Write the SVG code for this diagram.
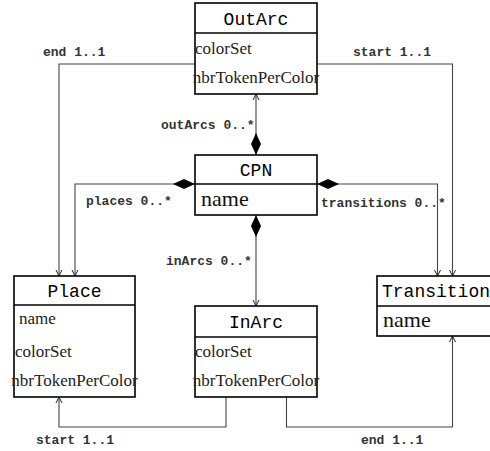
<svg xmlns="http://www.w3.org/2000/svg" width="490" height="451" viewBox="0 0 490 451">
  <style>
    .box { fill: #fff; stroke: #000; stroke-width: 1.6; }
    .div { stroke: #000; stroke-width: 1.6; }
    .title { font-family: "Liberation Mono", "DejaVu Sans Mono", monospace; font-size: 18px; fill: #000; text-anchor: middle; }
    .title.left { text-anchor: start; }
    .attr { font-family: "Liberation Serif", "DejaVu Serif", serif; font-size: 17px; fill: #222; }
    .attr.mid { text-anchor: middle; }
    .attrL { font-family: "Liberation Serif", "DejaVu Serif", serif; font-size: 22px; fill: #111; }
    .lbl { font-family: "Liberation Mono", "DejaVu Sans Mono", monospace; font-size: 13px; font-weight: bold; fill: #333; }
    .conn { fill: none; stroke: #444; stroke-width: 1.1; }
  </style>
  <defs>
    <marker id="open" viewBox="0 0 8 8" refX="7" refY="4" markerWidth="8" markerHeight="8" markerUnits="userSpaceOnUse" orient="auto">
      <path d="M1,1 L7,4 L1,7" fill="none" stroke="#222" stroke-width="1"/>
    </marker>
    <marker id="diamond" viewBox="0 -6 23 12" refX="0" refY="0" markerWidth="23" markerHeight="12" markerUnits="userSpaceOnUse" orient="auto">
      <path d="M0,0 L11,-5 L22,0 L11,5 Z" fill="#000"/>
    </marker>
  </defs>

  <!-- associations -->
  <g id="connectors">
    <!-- OutArc end / start -->
    <path class="conn" d="M195,64 H59 V276" marker-end="url(#open)"/>
    <path class="conn" d="M317,64 H452.5 V276" marker-end="url(#open)"/>
    <!-- CPN compositions -->
    <path class="conn" d="M256,155 V94" marker-start="url(#diamond)" marker-end="url(#open)"/>
    <path class="conn" d="M195,184 H75 V276" marker-start="url(#diamond)" marker-end="url(#open)"/>
    <path class="conn" d="M317,184 H437.5 V276" marker-start="url(#diamond)" marker-end="url(#open)"/>
    <path class="conn" d="M256,215 V306" marker-start="url(#diamond)" marker-end="url(#open)"/>
    <!-- InArc start / end -->
    <path class="conn" d="M226,397 V427 H59 V397" marker-end="url(#open)"/>
    <path class="conn" d="M286.5,397 V427 H452.5 V336" marker-end="url(#open)"/>

    <text class="lbl" x="43" y="56">end 1..1</text>
    <text class="lbl" x="353" y="56">start 1..1</text>
    <text class="lbl" x="161" y="129">outArcs 0..*</text>
    <text class="lbl" x="86" y="205">places 0..*</text>
    <text class="lbl" x="321" y="207">transitions 0..*</text>
    <text class="lbl" x="166" y="265">inArcs 0..*</text>
    <text class="lbl" x="36" y="444">start 1..1</text>
    <text class="lbl" x="361" y="444">end 1..1</text>
  </g>

  <g id="OutArc">
    <rect class="box" x="195" y="3" width="122" height="91"/>
    <line class="div" x1="195" y1="33" x2="317" y2="33"/>
    <text class="title" x="256" y="25">OutArc</text>
    <text class="attr" x="195" y="54">colorSet</text>
    <text class="attr mid" x="256" y="83">nbrTokenPerColor</text>
  </g>

  <g id="CPN">
    <rect class="box" x="195" y="155" width="122" height="60"/>
    <line class="div" x1="195" y1="184" x2="317" y2="184"/>
    <text class="title" x="256" y="176">CPN</text>
    <text class="attrL" x="201" y="206">name</text>
  </g>

  <g id="Place">
    <rect class="box" x="14" y="276" width="121" height="121"/>
    <line class="div" x1="14" y1="305" x2="135" y2="305"/>
    <text class="title" x="74.5" y="297">Place</text>
    <text class="attr" x="19" y="324">name</text>
    <text class="attr" x="15" y="357">colorSet</text>
    <text class="attr mid" x="74.5" y="386">nbrTokenPerColor</text>
  </g>

  <g id="InArc">
    <rect class="box" x="195" y="306" width="122" height="91"/>
    <line class="div" x1="195" y1="337" x2="317" y2="337"/>
    <text class="title" x="256" y="328">InArc</text>
    <text class="attr" x="195" y="357">colorSet</text>
    <text class="attr mid" x="256" y="386">nbrTokenPerColor</text>
  </g>

  <g id="Transition">
    <rect class="box" x="377" y="276" width="130" height="60"/>
    <line class="div" x1="377" y1="306" x2="507" y2="306"/>
    <text class="title left" x="382" y="297">Transition</text>
    <text class="attrL" x="383" y="327">name</text>
  </g>
</svg>
